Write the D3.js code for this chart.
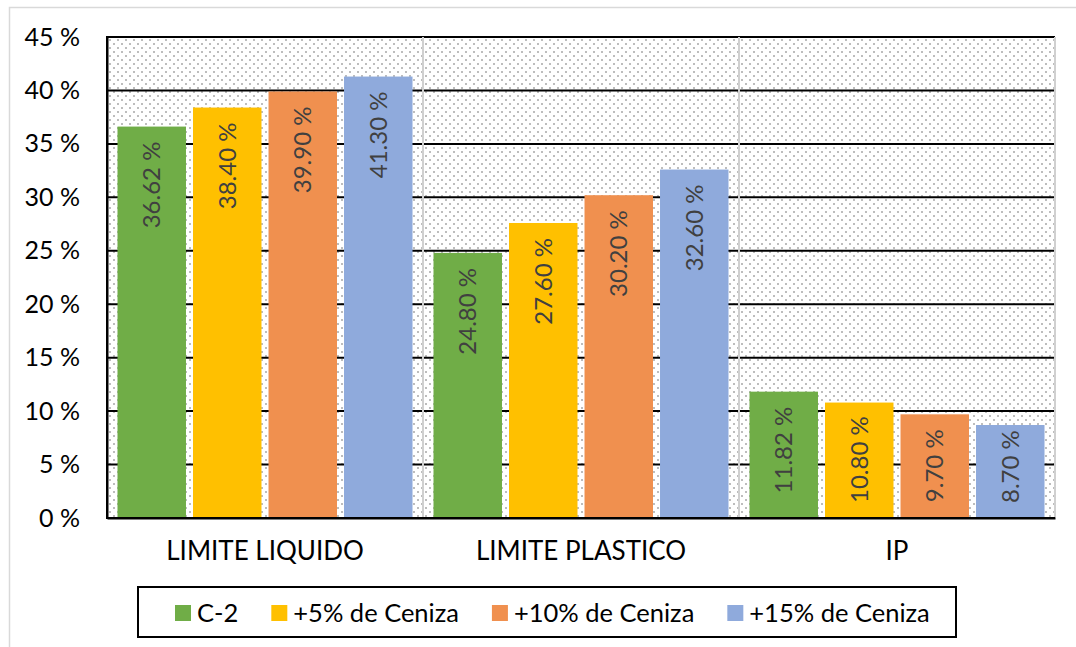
<!DOCTYPE html>
<html><head><meta charset="utf-8">
<script src="https://cdn.jsdelivr.net/npm/d3@7"></script>
<style>
html,body{margin:0;padding:0;background:#fff;}
svg{display:block;font-family:Lato,"Open Sans",sans-serif;}
</style></head>
<body>
<svg id="chart" width="1076" height="647"></svg>
<script>
const categories = ["LIMITE LIQUIDO", "LIMITE PLASTICO", "IP"];
const seriesNames = ["C-2", "+5% de Ceniza", "+10% de Ceniza", "+15% de Ceniza"];
const seriesC2 = [36.62, 24.80, 11.82];
const series5 = [38.40, 27.60, 10.80];
const series10 = [39.90, 30.20, 9.70];
const series15 = [41.30, 32.60, 8.70];
const yTicks = [0, 5, 10, 15, 20, 25, 30, 35, 40, 45];
const colors = ["#70AD47", "#FFC000", "#F0904F", "#8FAADC"];

const allSeries = [seriesC2, series5, series10, series15];
const svg = d3.select("#chart");
const m = {left: 107, right: 1055, top: 37, bottom: 518};

// outer frame
svg.append("rect").attr("x", 9.5).attr("y", 7.5).attr("width", 1100).attr("height", 700)
  .attr("fill", "#fff").attr("stroke", "#d9d9d9").attr("stroke-width", 1.5);

// pattern
const defs = svg.append("defs");
const pat = defs.append("pattern").attr("id", "dots").attr("patternUnits", "userSpaceOnUse")
  .attr("width", 8).attr("height", 8).attr("x", m.left + 2).attr("y", m.top + 2);
pat.append("rect").attr("width", 8).attr("height", 8).attr("fill", "#fff");
pat.append("rect").attr("x", 0).attr("y", 0).attr("width", 2).attr("height", 2).attr("fill", "#bdbdbd");
pat.append("rect").attr("x", 4).attr("y", 4).attr("width", 2).attr("height", 2).attr("fill", "#bdbdbd");

const x0 = d3.scaleBand().domain(categories).range([m.left, m.right]).padding(0);
const x1 = d3.scaleBand().domain(d3.range(seriesNames.length)).range([0, x0.bandwidth()])
  .paddingInner(0.093).paddingOuter(0.139);
const y = d3.scaleLinear().domain([0, 45]).range([m.bottom, m.top]);

svg.append("rect").attr("x", m.left).attr("y", m.top).attr("width", m.right - m.left)
  .attr("height", m.bottom - m.top).attr("fill", "url(#dots)");

// gridlines
svg.append("g").selectAll("line").data(yTicks.filter(d => d > 0)).join("line")
  .attr("x1", m.left).attr("x2", m.right).attr("y1", d => y(d)).attr("y2", d => y(d))
  .attr("stroke", "#000").attr("stroke-width", 2);

// category separators
svg.append("g").selectAll("line").data(categories).join("line")
  .attr("x1", d => x0(d) + x0.bandwidth()).attr("x2", d => x0(d) + x0.bandwidth())
  .attr("y1", m.top).attr("y2", m.bottom)
  .attr("stroke", "#d0d0d0").attr("stroke-width", 2);

// y axis
const yAxis = d3.axisLeft(y).tickValues(yTicks).tickSize(0).tickPadding(27)
  .tickFormat(d => d + " %");
const gy = svg.append("g").attr("transform", `translate(${m.left},0)`).call(yAxis);
gy.select(".domain").attr("stroke", "#000").attr("stroke-width", 2);
gy.selectAll("text").attr("font-size", 25).attr("fill", "#000").attr("font-family", "Lato");

// x axis
const xAxis = d3.axisBottom(x0).tickSize(0).tickPadding(24);
const gx = svg.append("g").attr("transform", `translate(0,${m.bottom})`).call(xAxis);
gx.select(".domain").attr("stroke", "#000").attr("stroke-width", 2);
gx.selectAll("text").attr("font-size", 26).attr("fill", "#000").attr("font-family", "Lato");

// bars
const barData = [];
categories.forEach((c, ci) => allSeries.forEach((s, si) => barData.push({c, si, v: s[ci]})));
const gb = svg.append("g");
gb.selectAll("rect").data(barData).join("rect")
  .attr("x", d => x0(d.c) + x1(d.si)).attr("width", x1.bandwidth())
  .attr("y", d => y(d.v)).attr("height", d => y(0) - y(d.v))
  .attr("fill", d => colors[d.si]);

// redraw axis lines on top
svg.append("line").attr("x1", m.left).attr("x2", m.left).attr("y1", m.top - 1).attr("y2", m.bottom + 1)
  .attr("stroke", "#000").attr("stroke-width", 2);
svg.append("line").attr("x1", m.left - 1).attr("x2", m.right).attr("y1", m.bottom).attr("y2", m.bottom)
  .attr("stroke", "#000").attr("stroke-width", 2);

// labels
const gl = svg.append("g");
barData.forEach(d => {
  const cx = x0(d.c) + x1(d.si) + x1.bandwidth() / 2;
  const g = gl.append("g");
  const t = g.append("text").text(d.v.toFixed(2) + " %")
    .attr("text-anchor", "end").attr("dy", "0.36em")
    .attr("font-size", 24).attr("fill", "#404040").attr("transform", "rotate(-90)");
  const len = t.node().getComputedTextLength();
  let top = y(d.v) + 15;
  if (top + len > y(0) - 15) top = y(0) - 15 - len;
  g.attr("transform", `translate(${cx},${top})`);
});

// legend
const lg = svg.append("g");
lg.append("rect").attr("x", 138).attr("y", 587).attr("width", 818).attr("height", 50)
  .attr("fill", "#fff").attr("stroke", "#000").attr("stroke-width", 2);
let lx = 175;
seriesNames.forEach((n, i) => {
  lg.append("rect").attr("x", lx).attr("y", 605).attr("width", 16).attr("height", 16).attr("fill", colors[i]);
  const t = lg.append("text").attr("x", lx + 22).attr("y", 613).attr("dy", "0.36em")
    .attr("font-size", 25.5).attr("fill", "#000").text(n);
  lx += 22 + t.node().getComputedTextLength() + 33;
});
</script>
</body></html>
